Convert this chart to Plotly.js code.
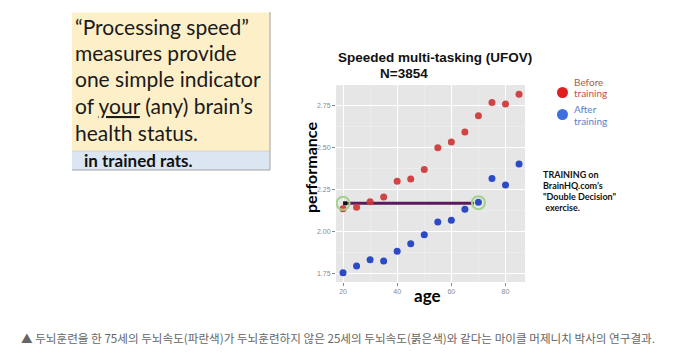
<!DOCTYPE html>
<html><head><meta charset="utf-8">
<script src="https://cdn.plot.ly/plotly-3.0.1.min.js"></script>
<style>html,body{margin:0;padding:0;background:#fff}#chart{width:683px;height:357px}</style>
</head><body><div id="chart"></div>
<script>
// ---- data ----
const ages = [20, 25, 30, 35, 40, 45, 50, 55, 60, 65, 70, 75, 80, 85];
const beforeTraining = [2.135, 2.145, 2.177, 2.206, 2.300, 2.314, 2.370, 2.500, 2.535, 2.594, 2.692, 2.770, 2.762, 2.820];
const afterTraining  = [1.754, 1.793, 1.831, 1.823, 1.882, 1.926, 1.980, 2.057, 2.067, 2.133, 2.174, 2.316, 2.278, 2.403];
const matchAges = [20.75, 68.3];
const matchLevel = [2.168, 2.168];
const circledAges = [20, 70];
const circledLevel = [2.168, 2.172];
const xTicks = [20, 40, 60, 80];
const yTicks = [1.75, 2.00, 2.25, 2.50, 2.75];
const yTickLabels = ['1.75', '2.00', '2.25', '2.50', '2.75'];
const boxLines = ['“Processing speed”', 'measures provide', 'one simple indicator',
  'of <span style="text-decoration:underline">your</span> (any) brain’s', 'health status.'];
const noteLines = ['TRAINING on', 'BrainHQ.com’s', '"Double Decision"', ' exercise.'];
const caption = '▲ 두뇌훈련을 한 75세의 두뇌속도(파란색)가 두뇌훈련하지 않은 25세의 두뇌속도(붉은색)와 같다는 마이클 머제니치 박사의 연구결과.';

// ---- layout helpers (pixel -> paper) ----
const L = 336, R = 525, T = 85, B = 282;
const px = x => (x - L) / (R - L);
const py = y => (B - y) / (B - T);

const traces = [
  {x: matchAges, y: matchLevel, mode: 'lines', line: {color: '#5b1a5e', width: 3}, hoverinfo: 'skip'},
  {x: [matchAges[0]], y: [matchLevel[0]], mode: 'markers', marker: {color: '#111', size: 4, symbol: 'square'}},
  {x: ages, y: beforeTraining, mode: 'markers', marker: {color: 'rgba(205,55,55,0.92)', size: 7}},
  {x: ages, y: afterTraining, mode: 'markers', marker: {color: 'rgba(35,65,195,0.95)', size: 7}},
  {x: circledAges, y: circledLevel, mode: 'markers', marker: {color: 'rgba(0,0,0,0)', size: 13, line: {color: '#a5d08a', width: 2}}}
];

const ann = [];
const A = (text, x, y, o) => ann.push(Object.assign({text, x: px(x), y: py(y), xref: 'paper', yref: 'paper', showarrow: false, xanchor: 'left', yanchor: 'middle'}, o));
const F = (family, size, color, weight) => ({family, size, color, weight: weight || 'normal'});

A('<b>in trained rats.</b>', 82, 160, {font: F('Lato', 17, '#111')});
boxLines.forEach((t, i) => A(t, 73, 26 + i * 26.5, {font: F('Lato', 21, '#1a1a1a')}));
A('<b>Speeded multi-tasking (UFOV)</b>', 435, 57, {xanchor: 'center', font: F('Liberation Sans', 13.5, '#111')});
A('<b>N=3854</b>', 404, 74, {xanchor: 'center', font: F('Liberation Sans', 13.5, '#111')});
A('<b>performance</b>', 310, 168, {xanchor: 'center', textangle: -90, font: F('Lato', 16, '#000')});
A('<b>age</b>', 427, 295, {xanchor: 'center', font: F('Lato', 17, '#000')});
A('Before', 572, 82, {font: F('Lato', 10, '#c0504d')});
A('training', 572, 93, {font: F('Lato', 10, '#c0504d')});
A('After', 572, 109, {font: F('Lato', 10, '#5b7fc8')});
A('training', 572, 120.5, {font: F('Lato', 10, '#5b7fc8')});
noteLines.forEach((t, i) => A('<b>' + t + '</b>', 541, 174 + i * 11, {font: F('Lato', 9, '#111')}));
A(caption, 19, 338, {font: F('Noto Sans CJK KR', 11.6, '#666')});

const shapes = [
  {type: 'rect', xref: 'paper', yref: 'paper', x0: px(72), x1: px(270), y0: py(151), y1: py(170), fillcolor: '#dce6f2', line: {width: 0}, layer: 'below'},
  {type: 'rect', xref: 'paper', yref: 'paper', x0: px(72), x1: px(270), y0: py(12.5), y1: py(151), fillcolor: '#fdf0c9', line: {width: 0}, layer: 'below'},
  {type: 'line', xref: 'paper', yref: 'paper', x0: px(270), x1: px(270), y0: py(12), y1: py(170), line: {color: '#a0a0a0', width: 1}},
  {type: 'line', xref: 'paper', yref: 'paper', x0: px(72), x1: px(270), y0: py(170), y1: py(170), line: {color: '#a0a0a0', width: 1}},
  {type: 'line', xref: 'paper', yref: 'paper', x0: px(72), x1: px(270), y0: py(151), y1: py(151), line: {color: '#b8b8b8', width: 0.5}},
  {type: 'circle', xref: 'paper', yref: 'paper', x0: px(557), x1: px(568), y0: py(87), y1: py(98), fillcolor: '#e02020', line: {width: 0}},
  {type: 'circle', xref: 'paper', yref: 'paper', x0: px(557), x1: px(568), y0: py(109), y1: py(120), fillcolor: '#3d6fe0', line: {width: 0}}
];

const axisCommon = {showline: false, zeroline: false, gridcolor: '#ffffff', gridwidth: 1,
  ticks: 'outside', ticklen: 3, tickcolor: '#8a8a8a', tickfont: {family: 'Liberation Sans', size: 7, color: '#8a8a8a'}};

const layout = {
  width: 683, height: 357,
  margin: {l: L, r: 683 - R, t: T, b: 357 - B, pad: 0},
  paper_bgcolor: '#ffffff', plot_bgcolor: '#e6e6e6',
  showlegend: false,
  xaxis: Object.assign({}, axisCommon, {range: [17.4, 87.2], tickvals: xTicks, minor: {showgrid: true, gridcolor: '#f1f1f1', gridwidth: 0.5, dtick: 10, tick0: 10}}),
  yaxis: Object.assign({}, axisCommon, {range: [1.698, 2.875], tickvals: yTicks, ticktext: yTickLabels, minor: {showgrid: true, gridcolor: '#f1f1f1', gridwidth: 0.5, dtick: 0.125, tick0: 1.625}}),
  annotations: ann, shapes: shapes
};

Plotly.newPlot('chart', traces, layout, {staticPlot: true, displayModeBar: false});
</script></body></html>
